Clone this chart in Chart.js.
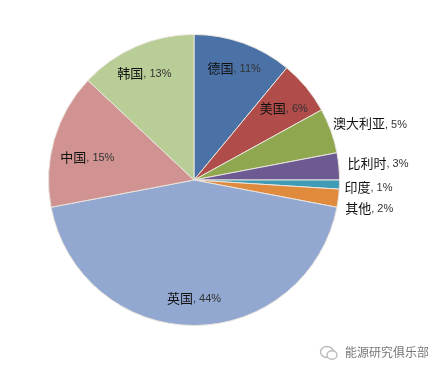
<!DOCTYPE html>
<html lang="zh">
<head>
  <meta charset="UTF-8">
  <title>Pie</title>
  <script src="https://cdn.jsdelivr.net/npm/chart.js"></script>
  <style>
    html, body { margin: 0; padding: 0; background: #fff; overflow: hidden; }
    canvas { display: block; }
    #mark {
      position: absolute; left: 345px; top: 342px; width: 83px; overflow: hidden; white-space: nowrap;
      font: 12px "Noto Sans CJK SC", sans-serif; color: #777; line-height: 20px;
    }
    #icon { position: absolute; left: 319px; top: 344px; }
  </style>
</head>
<body>
  <canvas id="pie" width="428" height="365"></canvas>
  <svg id="icon" width="20" height="18" viewBox="0 0 20 18">
    <ellipse cx="8" cy="8" rx="6.5" ry="5.5" fill="none" stroke="#bbb" stroke-width="1.4"/>
    <ellipse cx="13" cy="11" rx="5" ry="4.2" fill="#fff" stroke="#bbb" stroke-width="1.4"/>
  </svg>
  <div id="mark">能源研究俱乐部</div>
  <script>
    const categories = ['德国', '美国', '澳大利亚', '比利时', '印度', '其他', '英国', '中国', '韩国'];
    const shares = [11, 6, 5, 3, 1, 2, 44, 15, 13];
    const sliceColors = ['#4a72a6', '#b04d4a', '#8fa850', '#6d5a93', '#3f9bb6', '#e08a3e', '#93a8d0', '#d09392', '#b9cd97'];
    // how far out each label sits, as a fraction of the radius, and its turn off the slice middle (deg)
    const labelDist = [0.815, 0.79, 1.27, 1.27, 1.2, 1.22, 0.81, 0.75, 0.81];
    const labelTurn = [0, 1, 2, 0, 0.5, 2, 0, -4, -1.5];

    const nameFont = '13px "Noto Sans CJK SC", sans-serif';
    const shareFont = '11px "Liberation Sans", sans-serif';

    const sliceLabels = {
      id: 'sliceLabels',
      afterDatasetsDraw(chart) {
        const { ctx } = chart;
        ctx.save();
        ctx.textAlign = 'left';
        ctx.textBaseline = 'middle';
        chart.getDatasetMeta(0).data.forEach((arc, i) => {
          const p = arc.getProps(['x', 'y', 'startAngle', 'endAngle', 'outerRadius'], true);
          const mid = (p.startAngle + p.endAngle) / 2 + labelTurn[i] * Math.PI / 180;
          const r = p.outerRadius * labelDist[i];
          const share = ', ' + shares[i] + '%';
          ctx.font = shareFont;
          const shareW = ctx.measureText(share).width;
          ctx.font = nameFont;
          const nameW = ctx.measureText(categories[i]).width;
          const x = p.x + Math.cos(mid) * r - (nameW + shareW) / 2;
          const y = p.y + Math.sin(mid) * r;
          ctx.fillStyle = '#111';
          ctx.fillText(categories[i], x, y);
          ctx.font = shareFont;
          ctx.fillStyle = '#333';
          ctx.fillText(share, x + nameW, y + 1);
        });
        ctx.restore();
      }
    };

    new Chart(document.getElementById('pie'), {
      type: 'pie',
      data: {
        labels: categories,
        datasets: [{
          data: shares,
          backgroundColor: sliceColors,
          borderColor: '#e8e4dc',
          borderWidth: 1
        }]
      },
      options: {
        responsive: false,
        animation: false,
        layout: { padding: { left: 48, right: 88, top: 34, bottom: 39 } },
        plugins: { legend: { display: false }, tooltip: { enabled: false } }
      },
      plugins: [sliceLabels]
    });
  </script>
</body>
</html>
